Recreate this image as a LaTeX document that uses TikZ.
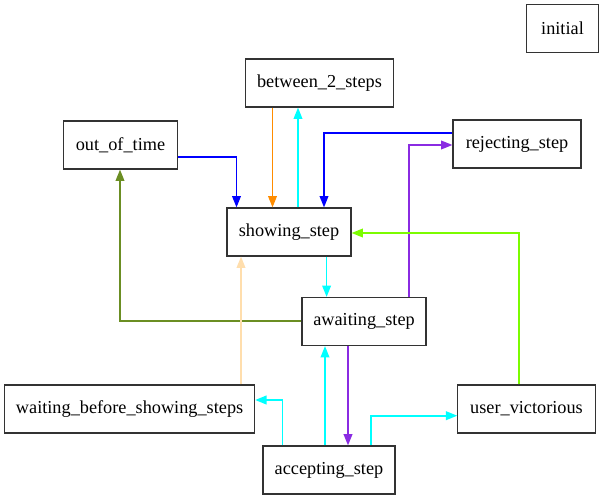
\documentclass[tikz,border=0pt]{standalone}
\usepackage{fontspec}
\setmainfont{Liberation Serif}
\usetikzlibrary{arrows.meta}
\definecolor{cBlue}{HTML}{0000FF}
\definecolor{cOrange}{HTML}{FF8C00}
\definecolor{cCyan}{HTML}{00FFFF}
\definecolor{cPurple}{HTML}{8A2BE2}
\definecolor{cGreen}{HTML}{7CFC00}
\definecolor{cOlive}{HTML}{6B8E23}
\definecolor{cBeige}{HTML}{FFDEAD}
\definecolor{cBorder}{HTML}{333333}
\begin{document}
\begin{tikzpicture}[x=0.75pt,y=-0.75pt,
  state/.style={draw=cBorder,line width=0.85pt,rectangle,minimum height=36pt,inner sep=0pt,
    font=\fontsize{13.7}{16}\selectfont},
  edge/.style={line width=1pt,-{Triangle[length=8.5pt,width=6.5pt]}},
  thick edge/.style={edge,line width=1.25pt}]
\useasboundingbox (0,0) rectangle (603,499);
\node[state,minimum width=54pt] (initial) at (562.5,28.5) {initial};
\node[state,minimum width=111pt] (between) at (319.5,83) {between\_2\_steps};
\node[state,minimum width=86pt] (out) at (120.5,145) {out\_of\_time};
\node[state,minimum width=96pt] (rej) at (517,144) {rejecting\_step};
\node[state,minimum width=93pt] (show) at (289,232) {showing\_step};
\node[state,minimum width=93pt] (await) at (364,321.5) {awaiting\_step};
\node[state,minimum width=187.5pt] (wait) at (129.6,409) {waiting\_before\_showing\_steps};
\node[state,minimum width=103pt] (uv) at (526.5,409) {user\_victorious};
\node[state,minimum width=99pt] (acc) at (329,470) {accepting\_step};

\draw[edge,cBlue] (out.east |- 0,157) -| (show.north -| 236.5,0);
\draw[edge,cOrange] (between.south -| 272.5,0) -- (show.north -| 272.5,0);
\draw[edge,cCyan] (show.north -| 298,0) -- (between.south -| 298,0);
\draw[edge,cBlue] (rej.west |- 0,133) -| (show.north -| 324,0);
\draw[edge,cPurple] (await.north -| 409,0) |- (rej.west |- 0,145);
\draw[edge,cGreen] (uv.north -| 519,0) |- (show.east |- 0,233);
\draw[edge,cCyan] (show.south -| 326.6,0) -- (await.north -| 326.6,0);
\draw[edge,cOlive] (await.west |- 0,321) -| (out.south -| 120,0);
\draw[edge,cBeige] (wait.north -| 241,0) -- (show.south -| 241,0);
\draw[thick edge,cCyan] (acc.north -| 325,0) -- (await.south -| 325,0);
\draw[thick edge,cPurple] (await.south -| 348,0) -- (acc.north -| 348,0);
\draw[thick edge,cCyan] (acc.north -| 282.5,0) |- (wait.east |- 0,400);
\draw[thick edge,cCyan] (acc.north -| 371,0) |- (uv.west |- 0,415.7);
\end{tikzpicture}
\end{document}
